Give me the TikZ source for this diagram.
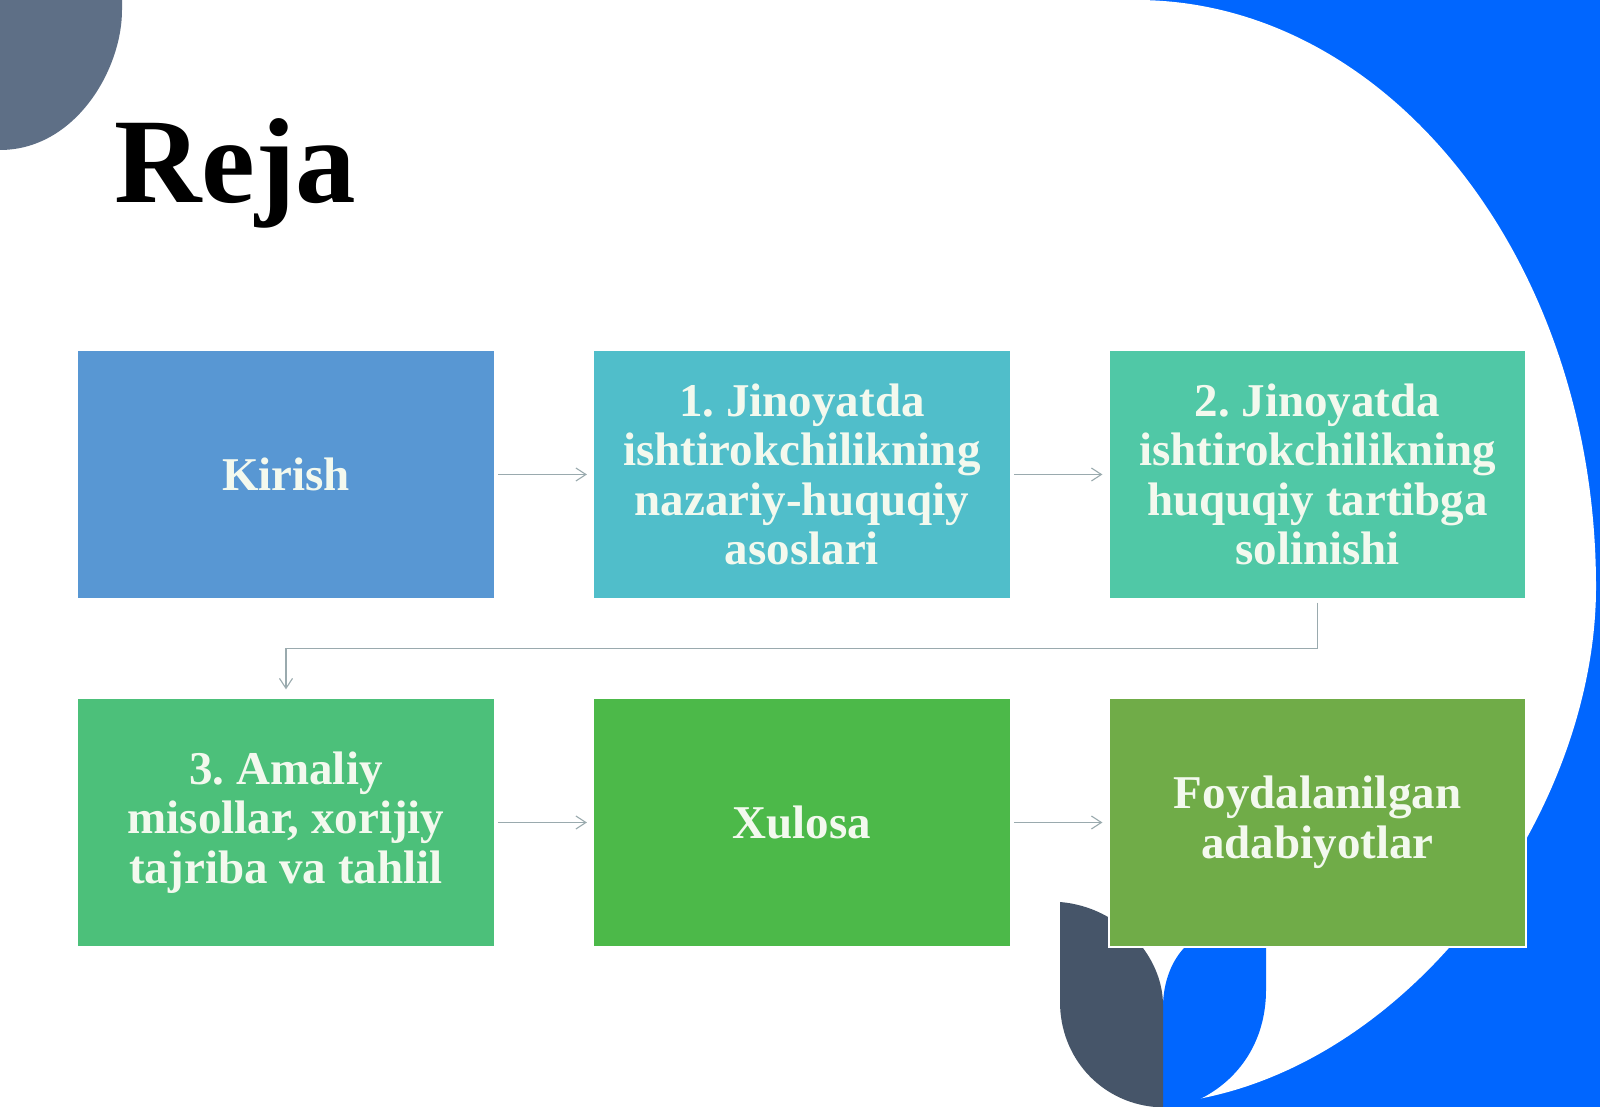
\documentclass[tikz,border=0pt]{standalone}
\usepackage{fontspec}
\setmainfont{Liberation Serif}
\usetikzlibrary{arrows.meta,calc}
\definecolor{bgblue}{HTML}{0066FF}
\definecolor{darkleaf}{HTML}{465569}
\definecolor{cornergray}{HTML}{5E6F86}
\definecolor{cA}{HTML}{5897D3}
\definecolor{cB}{HTML}{50BECA}
\definecolor{cC}{HTML}{50C8A6}
\definecolor{cD}{HTML}{4CC07A}
\definecolor{cE}{HTML}{4CB949}
\definecolor{cF}{HTML}{70AC48}
\definecolor{txt}{HTML}{F3F9EE}
\definecolor{arrowgray}{HTML}{9AAAAE}
\frenchspacing
\begin{document}
\begin{tikzpicture}[x=1pt,y=1pt,
  box/.style={minimum width=417pt, minimum height=249pt, draw=white, line width=1.2pt,
    text=txt, align=center, inner sep=0pt,
    font=\fontsize{47}{49.5}\selectfont\bfseries\frenchspacing},
  arr/.style={draw=arrowgray, line width=1.1pt, -{Straight Barb[length=10pt,width=13pt]}}]
\useasboundingbox (0,0) rectangle (1600,1107);
\fill[white] (0,0) rectangle (1600,1107);
% right blue background
\fill[bgblue] (1130,0) rectangle (1600,1107);
% big white shape
\fill[white] (1100,1107) -- (1136,1107)
  .. controls (1390,1107) and (1596,844) .. (1596,520)
  .. controls (1596,300) and (1420,50) .. (1198,8)
  -- (1165,0) -- (1100,0) -- cycle;
% blue leaf
\fill[bgblue] (1163,0) -- (1163,100) .. controls (1163,125) and (1172,148) .. (1187,162) -- (1200,175) -- (1266,175) -- (1266,117) .. controls (1266,67) and (1240,27) .. (1198,7) -- (1180,0) -- cycle;
% dark leaf
\fill[darkleaf] (1163,0) -- (1163,102) .. controls (1163,150) and (1120,200) .. (1060,205) -- (1060,105) .. controls (1060,50) and (1100,5) .. (1155,0) -- cycle;
% top-left corner shape
\fill[cornergray] (0,1107) -- (122,1107) -- (122,1097) .. controls (122,1037) and (75,957) .. (0,957) -- cycle;
% title
\node[anchor=base west, inner sep=0pt, font=\fontsize{121}{130}\selectfont\bfseries, text=black] (title) at (114,904) {Reja};
% boxes
\node[box, fill=cA] (b1) at (286,632.5) {Kirish};
\node[box, fill=cB] (b2) at (802,632.5) {1. Jinoyatda\\ishtirokchilikning\\nazariy-huquqiy\\asoslari};
\node[box, fill=cC] (b3) at (1317.5,632.5) {2. Jinoyatda\\ishtirokchilikning\\huquqiy tartibga\\solinishi};
\node[box, fill=cD] (b4) at (286,284.5) {3. Amaliy\\misollar, xorijiy\\tajriba va tahlil};
\node[box, fill=cE] (b5) at (802,284.5) {Xulosa};
\node[box, fill=cF] (b6) at (1317.5,284.5) {Foydalanilgan\\adabiyotlar};
% connectors
\draw[arr] ([xshift=3pt]b1.east) -- ([xshift=-6pt]b2.west);
\draw[arr] ([xshift=3pt]b2.east) -- ([xshift=-6pt]b3.west);
\draw[arr] ([yshift=-3pt]b3.south) -- ++(0,-46) -| ([yshift=8pt]b4.north);
\draw[arr] ([xshift=3pt]b4.east) -- ([xshift=-6pt]b5.west);
\draw[arr] ([xshift=3pt]b5.east) -- ([xshift=-6pt]b6.west);
\end{tikzpicture}
\end{document}
